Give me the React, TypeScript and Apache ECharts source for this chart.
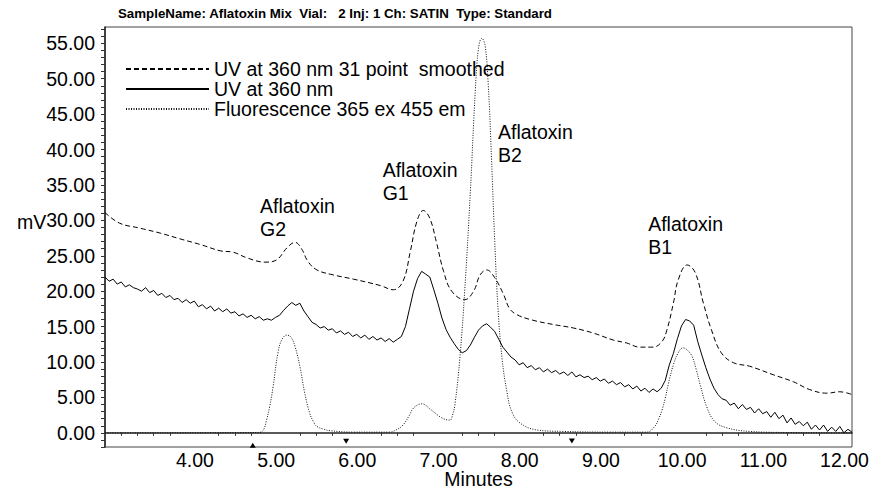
import React, { useEffect, useRef } from "react";
import * as echarts from "echarts";

const FONT = "'Liberation Sans', Arial, sans-serif";

const titleText = "SampleName: Aflatoxin Mix  Vial:   2 Inj: 1 Ch: SATIN  Type: Standard";
const seriesNames = ["UV at 360 nm 31 point  smoothed", "UV at 360 nm", "Fluorescence 365 ex 455 em"];

const xLabelValues = [4, 5, 6, 7, 8, 9, 10, 11, 12];
const xTickValues = [3.0, 3.2, 3.4, 3.6, 4.2, 4.4, 4.6, 5.2, 5.4, 5.6, 6.2, 6.4, 6.6, 7.2, 7.4, 7.6, 8.2, 8.4, 8.6, 9.2, 9.4, 9.6, 10.2, 10.4, 10.6, 11.2, 11.4, 11.6];
const yLabelValues = [0, 5, 10, 15, 20, 25, 30, 35, 40, 45, 50, 55];
const yTickValues = [-2, -1, 0, 1, 2, 3, 4, 5, 6, 7, 8, 9, 10, 11, 12, 13, 14, 15, 16, 17, 18, 19, 20, 21, 22, 23, 24, 25, 26, 27, 28, 29, 30, 31, 32, 33, 34, 35, 36, 37, 38, 39, 40, 41, 42, 43, 44, 45, 46, 47, 48, 49, 50, 51, 52, 53, 54, 55, 56, 57];

const smoothedUV = [
  [2.80, 31.1], [2.98, 29.6], [3.23, 28.9], [3.48, 28.2], [3.72, 27.4], [3.97, 26.6], [4.22, 25.7],
  [4.38, 25.5], [4.55, 24.7], [4.77, 24.1], [4.91, 24.4], [5.04, 26.1], [5.14, 26.9], [5.22, 26.0],
  [5.30, 24.2], [5.41, 23.0], [5.61, 22.3], [5.86, 21.7], [6.19, 20.8], [6.35, 20.2], [6.47, 21.4],
  [6.56, 25.6], [6.64, 29.8], [6.72, 31.4], [6.80, 30.3], [6.88, 27.0], [6.97, 22.8], [7.07, 20.0],
  [7.23, 18.8], [7.34, 20.0], [7.42, 22.3], [7.50, 23.0], [7.60, 21.9], [7.71, 19.5], [7.78, 17.6],
  [7.87, 16.7], [8.07, 15.9], [8.32, 15.3], [8.57, 14.8], [8.81, 14.1], [9.06, 13.1], [9.22, 12.7],
  [9.39, 12.1], [9.55, 12.1], [9.66, 12.9], [9.72, 14.5], [9.80, 18.3], [9.86, 21.6], [9.97, 23.7],
  [10.07, 22.6], [10.17, 18.3], [10.27, 14.5], [10.39, 11.3], [10.54, 9.9], [10.74, 9.4], [11.03, 8.2],
  [11.28, 7.2], [11.48, 6.1], [11.69, 5.6], [11.85, 5.8], [12.00, 5.4],
];

const rawUV = [
  [2.80, 22.0], [2.85, 21.4], [2.90, 21.7], [2.95, 21.0], [3.00, 21.3], [3.05, 20.6], [3.10, 20.9], [3.15, 20.5],
  [3.20, 20.3], [3.25, 20.0], [3.30, 20.5], [3.35, 19.8], [3.40, 20.1], [3.45, 19.4], [3.50, 19.7], [3.55, 19.1],
  [3.60, 19.4], [3.65, 18.8], [3.70, 19.0], [3.75, 18.4], [3.80, 18.8], [3.85, 18.3], [3.90, 18.6], [3.95, 17.8],
  [4.00, 18.1], [4.05, 17.5], [4.10, 17.9], [4.15, 17.2], [4.20, 17.6], [4.25, 17.1], [4.30, 17.5], [4.35, 16.9],
  [4.40, 17.1], [4.45, 16.5], [4.50, 16.8], [4.55, 16.3], [4.60, 16.6], [4.65, 16.1], [4.70, 16.4], [4.75, 15.9],
  [4.80, 16.1], [4.85, 15.9], [4.90, 16.3], [4.95, 16.6], [5.00, 17.3], [5.05, 17.9], [5.10, 18.4], [5.15, 18.0],
  [5.20, 18.3], [5.25, 17.2], [5.30, 16.4], [5.35, 15.6], [5.40, 15.3], [5.45, 14.8], [5.50, 15.0], [5.55, 14.5],
  [5.60, 14.7], [5.65, 14.1], [5.70, 14.4], [5.75, 13.9], [5.80, 14.2], [5.85, 13.6], [5.90, 13.9], [5.95, 13.4],
  [6.00, 13.8], [6.05, 13.2], [6.10, 13.6], [6.15, 13.1], [6.20, 13.4], [6.25, 12.9], [6.30, 13.3], [6.35, 12.8],
  [6.40, 13.2], [6.45, 13.6], [6.50, 15.0], [6.55, 17.5], [6.60, 20.0], [6.65, 21.8], [6.70, 22.8], [6.75, 22.4],
  [6.80, 22.0], [6.85, 20.2], [6.90, 18.3], [6.95, 16.2], [7.00, 14.6], [7.05, 13.5], [7.10, 12.6], [7.15, 11.8],
  [7.20, 11.3], [7.25, 11.6], [7.30, 12.4], [7.35, 13.5], [7.40, 14.5], [7.45, 15.1], [7.50, 15.4], [7.55, 14.9],
  [7.60, 14.3], [7.65, 13.2], [7.70, 12.1], [7.75, 11.4], [7.80, 10.7], [7.85, 10.3], [7.90, 9.6], [7.95, 9.9],
  [8.00, 9.2], [8.05, 9.5], [8.10, 8.9], [8.15, 9.2], [8.20, 8.6], [8.25, 9.0], [8.30, 8.5], [8.35, 8.8],
  [8.40, 8.3], [8.45, 8.6], [8.50, 8.1], [8.55, 8.6], [8.60, 7.9], [8.65, 8.2], [8.70, 7.8], [8.75, 8.0],
  [8.80, 7.5], [8.85, 7.8], [8.90, 7.3], [8.95, 7.6], [9.00, 7.0], [9.05, 7.3], [9.10, 6.8], [9.15, 7.1],
  [9.20, 6.5], [9.25, 6.8], [9.30, 6.2], [9.35, 6.6], [9.40, 5.9], [9.45, 6.3], [9.50, 5.7], [9.55, 6.2],
  [9.60, 5.8], [9.65, 6.3], [9.70, 7.4], [9.75, 9.6], [9.80, 11.2], [9.85, 13.3], [9.90, 15.1], [9.95, 16.0],
  [10.00, 15.8], [10.05, 15.2], [10.10, 12.9], [10.15, 11.0], [10.20, 9.2], [10.25, 7.6], [10.30, 6.3], [10.35, 5.4],
  [10.40, 4.8], [10.45, 4.6], [10.50, 3.9], [10.55, 4.2], [10.60, 3.4], [10.65, 4.0], [10.70, 3.3], [10.75, 3.6],
  [10.80, 2.8], [10.85, 3.4], [10.90, 2.7], [10.95, 3.0], [11.00, 2.2], [11.05, 2.9], [11.10, 2.0], [11.15, 2.5],
  [11.20, 1.4], [11.25, 2.1], [11.30, 1.2], [11.35, 1.6], [11.40, 1.0], [11.45, 1.5], [11.50, 0.5], [11.55, 1.1],
  [11.60, 0.4], [11.65, 1.1], [11.70, 0.2], [11.75, 0.8], [11.80, 0.2], [11.85, 0.9], [11.90, 0.0], [11.95, 0.5],
  [12.00, 0.1],
];

const fluorescence = [
  [2.80, 0.0], [4.70, 0.05], [4.75, 0.4], [4.79, 1.8], [4.83, 3.8], [4.87, 6.5], [4.93, 11.3], [4.98, 13.2],
  [5.04, 13.8], [5.09, 13.5], [5.14, 12.2], [5.20, 9.4], [5.26, 5.6], [5.32, 2.8], [5.37, 1.5], [5.41, 0.9],
  [5.50, 0.5], [5.57, 0.3], [5.86, 0.1], [6.30, 0.1], [6.40, 0.5], [6.47, 1.1], [6.55, 2.5], [6.60, 3.5],
  [6.70, 4.1], [6.82, 3.2], [6.95, 2.1], [7.05, 1.8], [7.08, 2.5], [7.11, 4.0], [7.17, 10.5], [7.23, 20.0],
  [7.30, 34.1], [7.36, 48.2], [7.40, 54.3], [7.44, 55.7], [7.48, 54.8], [7.52, 49.2], [7.56, 38.8], [7.60, 27.0],
  [7.64, 17.6], [7.69, 10.5], [7.75, 5.8], [7.81, 3.0], [7.91, 1.4], [8.12, 0.4], [8.44, 0.2], [9.02, 0.1],
  [9.47, 0.1], [9.57, 0.9], [9.62, 2.0], [9.66, 3.2], [9.70, 4.9], [9.74, 7.0], [9.80, 9.6], [9.86, 11.3],
  [9.92, 12.0], [9.97, 11.7], [10.03, 10.8], [10.08, 9.0], [10.13, 6.8], [10.21, 3.7], [10.31, 1.6], [10.46, 0.7],
  [10.74, 0.2], [11.20, 0.05], [12.00, 0.0],
];

const eventUp = [[4.62, -1.75]];
const eventDown = [[5.77, -1.2], [8.55, -1.15]];

const peakLabels = [
  { text: "Aflatoxin\nG2", x: 4.71, y: 30.4 },
  { text: "Aflatoxin\nG1", x: 6.22, y: 35.5 },
  { text: "Aflatoxin\nB2", x: 7.64, y: 40.8 },
  { text: "Aflatoxin\nB1", x: 9.49, y: 27.9 },
];

export default function App() {
  const ref = useRef<HTMLDivElement>(null);
  useEffect(() => {
    if (!ref.current) return;
    const chart = echarts.init(ref.current, null, { renderer: "svg" });
    const axisLine = { show: true, lineStyle: { color: "#222", width: 1.5 } };
    chart.setOption({
      animation: false,
      backgroundColor: "#fff",
      textStyle: { fontFamily: FONT },
      title: {
        text: titleText,
        left: 113,
        top: 2,
        textStyle: { fontFamily: FONT, fontSize: 13.3, fontWeight: "bold", color: "#000" },
      },
      legend: {
        orient: "vertical",
        left: 120,
        top: 54,
        itemWidth: 83,
        itemHeight: 20,
        itemGap: 0,
        itemStyle: { opacity: 0 },
        textStyle: { fontFamily: FONT, fontSize: 19.5, color: "#000" },
        data: seriesNames,
      },
      grid: {
        left: 105,
        right: 23,
        top: 27,
        bottom: 42,
        show: true,
        borderColor: "#444",
        borderWidth: 1,
        outerBoundsMode: "none",
        containLabel: false,
      },
      xAxis: {
        type: "value",
        min: 2.8,
        max: 12.0,
        name: "Minutes",
        nameLocation: "middle",
        nameGap: 32,
        nameMoveOverlap: false,
        nameTextStyle: { fontFamily: FONT, fontSize: 19.5, color: "#000", verticalAlign: "middle" },
        axisLine,
        splitLine: { show: false },
        axisTick: { show: true, length: 3, customValues: xTickValues, lineStyle: { color: "#333" } },
        axisLabel: {
          customValues: xLabelValues,
          formatter: (v: number) => v.toFixed(2),
          fontFamily: FONT,
          fontSize: 19.5,
          color: "#000",
          margin: 3,
          padding: [0, 15, 0, 0],
        },
      },
      yAxis: {
        type: "value",
        min: -2,
        max: 57.3,
        axisLine,
        splitLine: { show: false },
        axisTick: { show: true, length: 4, customValues: yTickValues, lineStyle: { color: "#333" } },
        axisLabel: {
          customValues: yLabelValues,
          formatter: (v: number) => v.toFixed(2),
          fontFamily: FONT,
          fontSize: 19.5,
          color: "#000",
          margin: 10,
        },
      },
      graphic: [
        {
          type: "text",
          left: 17,
          top: 212,
          style: { text: "mV", font: `19.5px ${FONT}`, fill: "#000" },
        },
      ],
      series: [
        {
          name: seriesNames[0],
          type: "line",
          data: smoothedUV,
          smooth: 0.4,
          symbol: "none",
          lineStyle: { color: "#000", width: 1, type: [5, 3] },
          itemStyle: { color: "#000" },
        },
        {
          name: seriesNames[1],
          type: "line",
          data: rawUV,
          symbol: "none",
          lineStyle: { color: "#000", width: 1 },
          itemStyle: { color: "#000" },
        },
        {
          name: seriesNames[2],
          type: "line",
          data: fluorescence,
          smooth: 0.4,
          symbol: "none",
          lineStyle: { color: "#111", width: 1, type: [1, 1.5] },
          itemStyle: { color: "#111" },
        },
        {
          type: "scatter",
          data: eventUp,
          symbol: "triangle",
          symbolSize: [6, 5],
          itemStyle: { color: "#000", opacity: 1 },
          silent: true,
        },
        {
          type: "scatter",
          data: eventDown,
          symbol: "triangle",
          symbolRotate: 180,
          symbolSize: [6, 5],
          itemStyle: { color: "#000", opacity: 1 },
          silent: true,
        },
        {
          type: "scatter",
          data: peakLabels.map((p) => ({ value: [p.x, p.y], label: { formatter: p.text } })),
          symbolSize: 0,
          silent: true,
          itemStyle: { opacity: 1 },
          label: {
            show: true,
            position: "right",
            distance: 0,
            align: "left",
            verticalAlign: "middle",
            fontFamily: FONT,
            fontSize: 19.5,
            lineHeight: 23,
            color: "#000",
            opacity: 1,
          },
        },
      ],
    });
    return () => chart.dispose();
  }, []);
  return (
    <div
      ref={ref}
      style={{ position: "fixed", left: 0, top: 0, width: 875, height: 489, background: "#fff" }}
    />
  );
}
